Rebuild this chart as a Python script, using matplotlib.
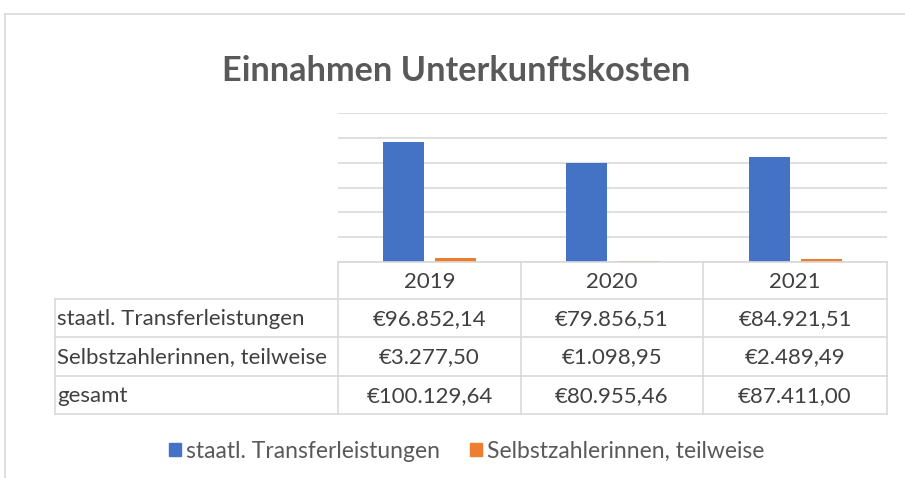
import matplotlib
matplotlib.use("Agg")
import matplotlib.pyplot as plt
from matplotlib.lines import Line2D
from matplotlib.patches import Rectangle
import numpy as np

years = ["2019", "2020", "2021"]
series_names = ["staatl. Transferleistungen", "Selbstzahlerinnen, teilweise"]
staatl = [96852.14, 79856.51, 84921.51]
selbst = [3277.50, 1098.95, 2489.49]
gesamt = [100129.64, 80955.46, 87411.00]
table_rows = ["staatl. Transferleistungen", "Selbstzahlerinnen, teilweise", "gesamt"]
colors = ["#4472C4", "#ED7D31"]

def eur(v):
    s = f"{v:,.2f}"
    s = s.replace(",", "X").replace(".", ",").replace("X", ".")
    return "€" + s

W, H = 905, 478
fig = plt.figure(figsize=(W / 100, H / 100), dpi=100)
plt.rcParams['font.family'] = ['Lato', 'DejaVu Sans']

def fx(x):
    return x / W

def fy(y):
    return 1 - y / H

GRID = "#d9d9d9"
TXT = "#404040"

# outer chart border
fig.add_artist(Line2D([fx(5), fx(905)], [fy(14), fy(14)], color=GRID, lw=1.2))
fig.add_artist(Line2D([fx(5), fx(5)], [fy(14), fy(478)], color=GRID, lw=1.2))

# title
fig.text(fx(456), fy(71), "Einnahmen Unterkunftskosten", ha="center", va="center",
         fontsize=24.7, fontweight="bold", color="#595959")

# plot area
left, right, top, base = 338, 887, 113, 262
ax = fig.add_axes([fx(left), fy(base), fx(right) - fx(left), fy(top) - fy(base)])
x = np.arange(len(years))
w = 0.225
off = 0.143
ax.bar(x - off, staatl, w, color=colors[0], zorder=3)
ax.bar(x + off, selbst, w, color=colors[1], zorder=3)
ax.set_xlim(-0.5, 2.5)
ax.set_ylim(0, 120000)
ax.set_yticks(np.arange(0, 120001, 20000))
ax.yaxis.grid(True, color=GRID, lw=1.2, zorder=0)
ax.set_xticks([])
ax.tick_params(left=False, labelleft=False)
for s in ax.spines.values():
    s.set_visible(False)

# data table
col_x = [55, 338, 521, 703, 887]
row_y = [262, 299, 337, 376, 414]
lw = 1.2
fig.add_artist(Line2D([fx(col_x[1]), fx(col_x[4])], [fy(row_y[0])] * 2, color=GRID, lw=lw))
for yy in row_y[1:]:
    fig.add_artist(Line2D([fx(col_x[0]), fx(col_x[4])], [fy(yy)] * 2, color=GRID, lw=lw))
fig.add_artist(Line2D([fx(col_x[0])] * 2, [fy(row_y[1]), fy(row_y[4])], color=GRID, lw=lw))
for cx in col_x[1:]:
    fig.add_artist(Line2D([fx(cx)] * 2, [fy(row_y[0]), fy(row_y[4])], color=GRID, lw=lw))

FS = 16
for j, yr in enumerate(years):
    cx = (col_x[j + 1] + col_x[j + 2]) / 2
    fig.text(fx(cx), fy((row_y[0] + row_y[1]) / 2 + 1), yr, ha="center", va="center",
             fontsize=FS, color=TXT)
data = [staatl, selbst, gesamt]
for i, name in enumerate(table_rows):
    cy = (row_y[i + 1] + row_y[i + 2]) / 2 + 1
    fig.text(fx(col_x[0] + 2), fy(cy), name, ha="left", va="center", fontsize=FS, color=TXT)
    for j in range(len(years)):
        cx = (col_x[j + 1] + col_x[j + 2]) / 2
        fig.text(fx(cx), fy(cy), eur(data[i][j]), ha="center", va="center",
                 fontsize=FS, color=TXT)

# legend
handles = [Rectangle((0, 0), 1, 1, color=c) for c in colors]
fig.legend(handles, series_names, loc="center", bbox_to_anchor=(fx(467), fy(451)),
           ncol=2, frameon=False, fontsize=16.5, handlelength=0.5, handleheight=0.5,
           handletextpad=0.25, columnspacing=1.3, labelcolor="#595959")

fig.savefig("out.png", dpi=100)
